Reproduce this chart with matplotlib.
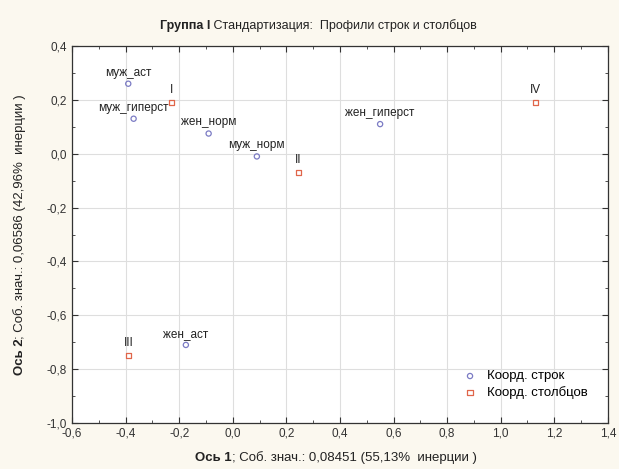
import matplotlib
matplotlib.use("Agg")
import matplotlib.pyplot as plt
from matplotlib.ticker import MultipleLocator, FuncFormatter

plt.rcParams["font.family"] = ["Liberation Sans", "DejaVu Sans"]

row_labels = ["муж_аст", "муж_гиперст", "жен_норм", "муж_норм", "жен_гиперст", "жен_аст"]
row_x = [-0.39, -0.37, -0.09, 0.09, 0.55, -0.175]
row_y = [0.26, 0.13, 0.075, -0.01, 0.11, -0.71]

col_labels = ["I", "II", "III", "IV"]
col_x = [-0.23, 0.245, -0.39, 1.13]
col_y = [0.19, -0.07, -0.75, 0.19]

bg = "#fbf8ef"
row_color = "#7b7bc4"
col_color = "#e0664a"
txt = "#222222"

fig = plt.figure(figsize=(6.19, 4.69), dpi=100, facecolor=bg)
ax = fig.add_axes([0.1163, 0.098, 0.8657, 0.8039])
ax.set_facecolor("white")

ax.scatter(row_x, row_y, s=14, facecolors="none", edgecolors=row_color,
           linewidths=0.9, marker="o", label="Коорд. строк", zorder=3)
ax.scatter(col_x, col_y, s=14, facecolors="none", edgecolors=col_color,
           linewidths=0.9, marker="s", label="Коорд. столбцов", zorder=3)

for lab, x, y in zip(row_labels, row_x, row_y):
    ax.annotate(lab, (x, y), xytext=(0, 8), textcoords="offset points",
                ha="center", va="center", fontsize=8.5, color=txt)
for lab, x, y in zip(col_labels, col_x, col_y):
    ax.annotate(lab, (x, y), xytext=(0, 9), textcoords="offset points",
                ha="center", va="center", fontsize=8.5, color=txt)

ax.set_xlim(-0.6, 1.4)
ax.set_ylim(-1.0, 0.4)
ax.xaxis.set_major_locator(MultipleLocator(0.2))
ax.yaxis.set_major_locator(MultipleLocator(0.2))
ax.xaxis.set_minor_locator(MultipleLocator(0.1))
ax.yaxis.set_minor_locator(MultipleLocator(0.1))
fmt = FuncFormatter(lambda v, p: f"{v:.1f}".replace(".", ",").replace("-0,0", "0,0"))
ax.xaxis.set_major_formatter(fmt)
ax.yaxis.set_major_formatter(fmt)
ax.tick_params(which="both", direction="in", top=True, right=True,
               labelsize=8.5, colors="#333333")
ax.tick_params(which="major", length=4)
ax.tick_params(which="minor", length=2)
ax.grid(True, which="major", color="#dedede", linewidth=0.8)
ax.set_axisbelow(True)
for s in ax.spines.values():
    s.set_color("#333333")
    s.set_linewidth(0.9)

ax.legend(loc="upper left", bbox_to_anchor=(0.728, 0.14), fontsize=9.5,
          frameon=False, handlelength=1.2, handletextpad=0.7,
          labelspacing=0.25, borderpad=0, borderaxespad=0)

# title: bold part + regular part
t1 = fig.text(0.258, 0.945, "Группа I", fontsize=9, fontweight="bold",
              va="center", ha="left", color=txt)
ax.annotate(" Стандартизация:  Профили строк и столбцов", xy=(1, 0.5),
            xycoords=t1, va="center", ha="left", fontsize=9, color=txt,
            annotation_clip=False)

# x axis label
xl = fig.text(0.315, 0.024, "Ось 1", fontsize=9.5, fontweight="bold",
              va="center", ha="left", color=txt)
ax.annotate("; Соб. знач.: 0,08451 (55,13%  инерции )", xy=(1, 0.5),
            xycoords=xl, va="center", ha="left", fontsize=9.5, color=txt,
            annotation_clip=False)

# y axis label (rotated)
yl = fig.text(0.032, 0.20, "Ось 2", fontsize=9.5, fontweight="bold",
              rotation=90, va="bottom", ha="center", color=txt)
ax.annotate("; Соб. знач.: 0,06586 (42,96%  инерции )", xy=(0.5, 1),
            xycoords=yl, va="bottom", ha="center", fontsize=9.5, rotation=90,
            color=txt, annotation_clip=False)

fig.savefig("out.png", dpi=100, facecolor=bg)
